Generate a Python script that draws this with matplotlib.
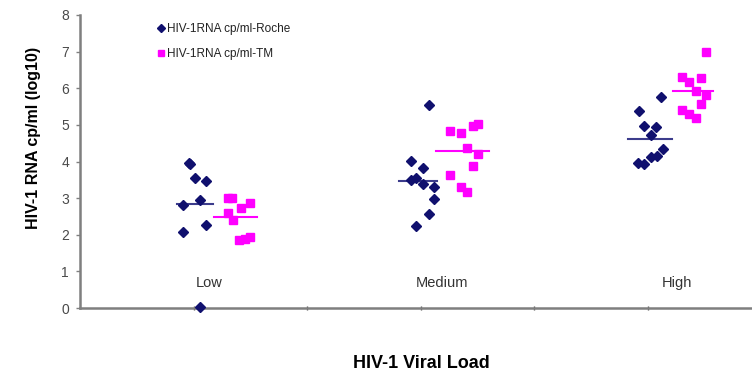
import matplotlib
matplotlib.use("Agg")
import matplotlib.pyplot as plt

plt.rcParams['font.family'] = ['Liberation Sans', 'DejaVu Sans']

# Excel-style scatter: each group placed at its own x slot (scattered around 1, 3, 5)
roche_low_x = [0.96, 0.97, 1.01, 1.11, 1.06, 0.91, 1.11, 0.91, 1.06]
roche_low_y = [3.97, 3.92, 3.54, 3.48, 2.95, 2.81, 2.27, 2.08, 0.03]
tm_low_x = [1.30, 1.34, 1.50, 1.42, 1.30, 1.35, 1.40, 1.50, 1.45]
tm_low_y = [3.01, 3.01, 2.88, 2.72, 2.59, 2.39, 1.86, 1.93, 1.89]

roche_med_x = [3.07, 2.91, 3.02, 2.91, 2.96, 3.02, 3.12, 3.12, 3.07, 2.96]
roche_med_y = [5.55, 4.02, 3.81, 3.50, 3.54, 3.38, 3.30, 2.97, 2.57, 2.25]
tm_med_x = [3.26, 3.35, 3.46, 3.50, 3.41, 3.50, 3.46, 3.26, 3.35, 3.41]
tm_med_y = [4.82, 4.79, 4.97, 5.02, 4.38, 4.21, 3.89, 3.62, 3.31, 3.16]

roche_high_x = [5.11, 4.92, 4.96, 5.07, 5.03, 5.13, 5.08, 5.03, 4.96, 4.91]
roche_high_y = [5.76, 5.39, 4.98, 4.94, 4.73, 4.34, 4.16, 4.12, 3.93, 3.97]
tm_high_x = [5.51, 5.30, 5.47, 5.36, 5.42, 5.51, 5.47, 5.30, 5.36, 5.42]
tm_high_y = [7.00, 6.30, 6.29, 6.16, 5.93, 5.82, 5.57, 5.41, 5.30, 5.18]

# group mean lines: (x start, x end, value)
roche_means = [(0.85, 1.17, 2.84), (2.81, 3.14, 3.48), (4.82, 5.21, 4.62)]
tm_means = [(1.18, 1.56, 2.48), (3.13, 3.60, 4.29), (5.22, 5.57, 5.93)]

categories = ['Low', 'Medium', 'High']
category_x = [1.14, 3.19, 5.25]

navy = '#10106e'
magenta = '#ff00ff'

fig = plt.figure(figsize=(7.52, 3.82), dpi=100)
ax = fig.add_axes([80 / 752, 1 - 308 / 382, 1 - 80 / 752, (308 - 15) / 382])

ax.plot(roche_low_x + roche_med_x + roche_high_x,
        roche_low_y + roche_med_y + roche_high_y,
        linestyle='none', marker='D', markersize=5, color=navy,
        label='HIV-1RNA cp/ml-Roche', clip_on=False, zorder=3)
ax.plot(tm_low_x + tm_med_x + tm_high_x,
        tm_low_y + tm_med_y + tm_high_y,
        linestyle='none', marker='s', markersize=6, color=magenta,
        label='HIV-1RNA cp/ml-TM', clip_on=False, zorder=3)

for x0, x1, m in roche_means:
    ax.plot([x0, x1], [m, m], color='#3c3c8c', linewidth=1.5, zorder=2)
for x0, x1, m in tm_means:
    ax.plot([x0, x1], [m, m], color=magenta, linewidth=1.5, zorder=2)

for name, cx in zip(categories, category_x):
    ax.text(cx, 0.68, name, ha='center', va='center', fontsize=10.5, color='#333333')

ax.set_xlim(0, 5.915)
ax.set_ylim(0, 8)
ax.set_xticks([1, 2, 3, 4, 5])
ax.set_xticklabels([])
ax.set_yticks(range(0, 9))
ax.tick_params(axis='y', labelsize=10, labelcolor='#4a4a4a', color='#808080',
               length=3, width=1, direction='out', pad=5)
ax.tick_params(axis='x', color='#555555', length=3, width=1, direction='inout')

for s in ['top', 'right']:
    ax.spines[s].set_visible(False)
for s in ['left', 'bottom']:
    ax.spines[s].set_color('#7f7f7f')
    ax.spines[s].set_linewidth(1.8)

fig.text(34 / 752, 1 - 138 / 382, 'HIV-1 RNA cp/ml (log10)', rotation=90,
         ha='center', va='center', fontsize=11.5, fontweight='bold')
fig.text(421 / 752, 1 - 363 / 382, 'HIV-1 Viral Load', ha='center', va='center',
         fontsize=13, fontweight='bold')

leg = ax.legend(loc='upper left', bbox_to_anchor=(0.1, 1.01), frameon=False,
                fontsize=8.5, handlelength=0.5, handletextpad=0.25, labelspacing=1.1,
                markerscale=0.75)
for t in leg.get_texts():
    t.set_color('#222222')

fig.savefig('out.png', dpi=100)
